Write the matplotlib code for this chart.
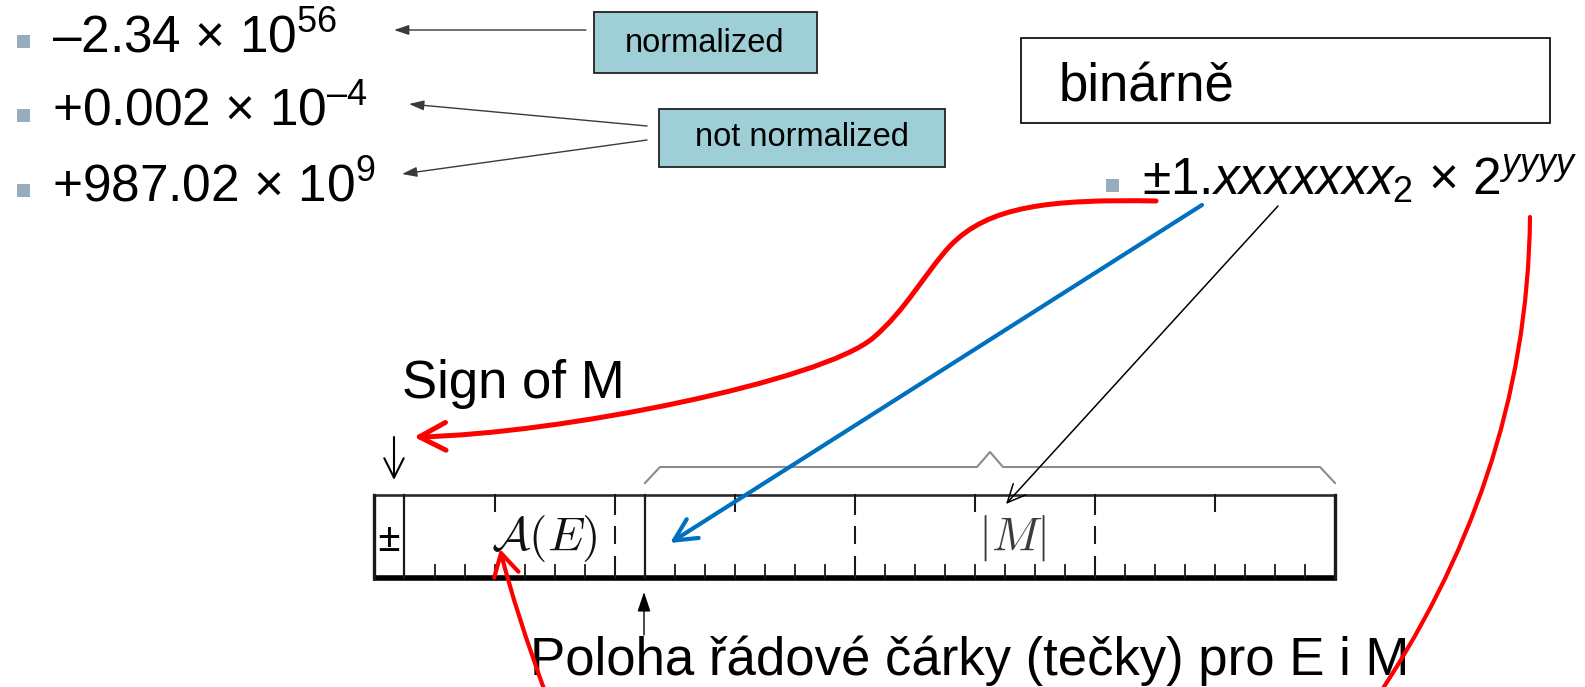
import matplotlib
matplotlib.use("Agg")
import matplotlib.pyplot as plt
from matplotlib.patches import Rectangle, FancyArrowPatch
from matplotlib.path import Path

plt.rcParams["font.family"] = ["Liberation Sans", "DejaVu Sans"]
plt.rcParams["mathtext.fontset"] = "custom"
plt.rcParams["mathtext.rm"] = "Liberation Sans"
plt.rcParams["mathtext.it"] = "Liberation Sans:italic"
plt.rcParams["mathtext.bf"] = "Liberation Sans:bold"

# ---------------- content ----------------
decimal_examples = ["–2.34 × 10$^{\\mathregular{56}}$",
                    "+0.002 × 10$^{\\mathregular{–4}}$",
                    "+987.02 × 10$^{\\mathregular{9}}$"]
normalized_label = "normalized"
not_normalized_label = "not normalized"
binary_title = "binárně"
binary_form = "±1.$\\mathit{xxxxxxx}_{\\mathregular{2}}$ × 2$^{\\mathit{yyyy}}$"
sign_label = "Sign of M"
point_label = "Poloha řádové čárky (tečky) pro E i M"
field_bits = [1, 8, 23]
field_labels = ["±", r"$\mathcal{A}(E)$", r"$|M|$"]

# ---------------- canvas ----------------
W, H = 1585, 687
fig = plt.figure(figsize=(W / 100, H / 100), dpi=100)
ax = fig.add_axes([0, 0, 1, 1])
ax.set_xlim(0, W)
ax.set_ylim(H, 0)
ax.axis("off")

BULLET = "#97adbd"
BOXFILL = "#9fcfd6"
DARK = "#3a3a3a"
RED = "#ff0000"
BLUE = "#0070c0"

def bullet(cx, cy, s=13):
    ax.add_patch(Rectangle((cx - s / 2, cy - s / 2), s, s, fc=BULLET, ec="none"))

def arrow(p0, p1, style, color, lw, z=5):
    a = FancyArrowPatch(p0, p1, arrowstyle=style, color=color, lw=lw,
                        shrinkA=0, shrinkB=0, mutation_scale=1, zorder=z)
    ax.add_patch(a)

def arrow_path(path, style, color, lw, z=6):
    a = FancyArrowPatch(path=path, arrowstyle=style, color=color,
                        lw=lw, mutation_scale=1, zorder=z)
    ax.add_patch(a)

# ---------------- decimal examples ----------------
line_y = [52, 126, 201]
for txt, y in zip(decimal_examples, line_y):
    bullet(23, y - 11)
    ax.text(52, y, txt, fontsize=37, va="baseline", ha="left", color="black")

# boxes
ax.add_patch(Rectangle((594, 12), 223, 61, fc=BOXFILL, ec="#222222", lw=1.3))
ax.text(705, 52, normalized_label, fontsize=23.5, ha="center", va="baseline")
ax.add_patch(Rectangle((659, 109), 286, 58, fc=BOXFILL, ec="#222222", lw=1.3))
ax.text(802, 146, not_normalized_label, fontsize=23.5, ha="center", va="baseline")

thin = "-|>,head_length=9,head_width=3"
arrow((586, 30), (394, 30), thin, DARK, 1.0)
arrow((647, 126), (409, 104), thin, DARK, 1.0)
arrow((647, 140), (402, 174), thin, DARK, 1.0)

# ---------------- binary form ----------------
ax.add_patch(Rectangle((1021, 38), 529, 85, fc="white", ec="black", lw=1.2))
ax.text(1059, 102, binary_title, fontsize=38, ha="left", va="baseline")
bullet(1112, 185)
ax.text(1142, 195, binary_form, fontsize=37, ha="left", va="baseline")

# ---------------- register ----------------
x_sign = 375
bw = 30
top, bot = 495, 578
nbits = sum(field_bits)
x_right = x_sign + nbits * bw
LC = "#1a1a1a"
ax.plot([x_sign - 1, x_right], [top, top], color="#2a2a2a", lw=1.9, solid_capstyle="butt")
ax.plot([x_sign - 2.5, x_right + 1.5], [bot, bot], color="black", lw=4.0, solid_capstyle="butt")
ax.plot([x_sign - 1, x_sign - 1], [top, bot], color=LC, lw=2.4)
ax.plot([x_right, x_right], [top, bot], color=LC, lw=2.4)

field_starts = [x_sign]
for b in field_bits[:-1]:
    field_starts.append(field_starts[-1] + b * bw)

x0 = x_sign + field_bits[0] * bw
for k in range(nbits - field_bits[0]):
    x = x0 + k * bw
    if k == 0 or k == field_bits[1]:
        xx = x - 1 if k == 0 else x
        ax.plot([xx, xx], [top, bot], color=LC, lw=1.6)
        continue
    ax.plot([x, x], [565, bot], color=LC, lw=1.3)
    if k % 8 == 3:
        ax.plot([x, x], [top, 511], color=LC, lw=1.5)
    elif k % 8 == 7:
        for a, b in [(top, 514), (527, 543), (557, bot)]:
            ax.plot([x, x], [a, b], color=LC, lw=1.5)

# brace over mantissa
m0 = field_starts[2]
mc = (m0 + x_right) / 2
ax.plot([m0, m0 + 15, mc - 13, mc, mc + 13, x_right - 15, x_right],
        [483, 467, 467, 452, 467, 467, 483], color="#8c8c8c", lw=1.5,
        solid_joinstyle="round")

# field labels
ax.text(x_sign + 14, 541, field_labels[0], fontsize=30, fontweight="bold",
        ha="center", va="center", family="Liberation Serif")
ax.text(544, 538, field_labels[1], fontsize=34, ha="center", va="center",
        math_fontfamily="cm", color="#111111")
ax.text(1012, 538, field_labels[2], fontsize=34, ha="center", va="center",
        math_fontfamily="cm", color="#3c3c3c")

# ---------------- labels and small arrows ----------------
ax.text(402, 398, sign_label, fontsize=38, ha="left", va="baseline")
arrow((394, 437), (394, 480), "->,head_length=14,head_width=7", "black", 1.5)

ax.text(530, 675, point_label, fontsize=38, ha="left", va="baseline")
arrow((644, 635), (644, 592), "-|>,head_length=12,head_width=4", "black", 1.0)

# ---------------- coloured connectors ----------------
red_sign_curve = [(1156, 201),
                  (1050, 199), (988, 206), (950, 246),
                  (925, 273), (906, 310), (873, 338),
                  (822, 381), (560, 434), (414, 437)]
arrow_path(Path(red_sign_curve, [Path.MOVETO] + [Path.CURVE4] * 9),
           "->,head_length=19,head_width=10", RED, 3.6)

arrow((1202, 205), (670, 543), "->,head_length=16,head_width=8", BLUE, 3.0)
arrow((1278, 206), (1006, 504), "->,head_length=13,head_width=6", "black", 1.1)

red_exp_right = [(1530, 217), (1528, 400), (1470, 560), (1372, 705)]
arrow_path(Path(red_exp_right, [Path.MOVETO] + [Path.CURVE4] * 3), "-", RED, 3.0)
red_exp_left = [(548, 700), (515, 610), (500, 549)]
arrow_path(Path(red_exp_left, [Path.MOVETO] + [Path.CURVE3] * 2),
           "->,head_length=16,head_width=9", RED, 3.0)

fig.savefig("out.png", dpi=100)
